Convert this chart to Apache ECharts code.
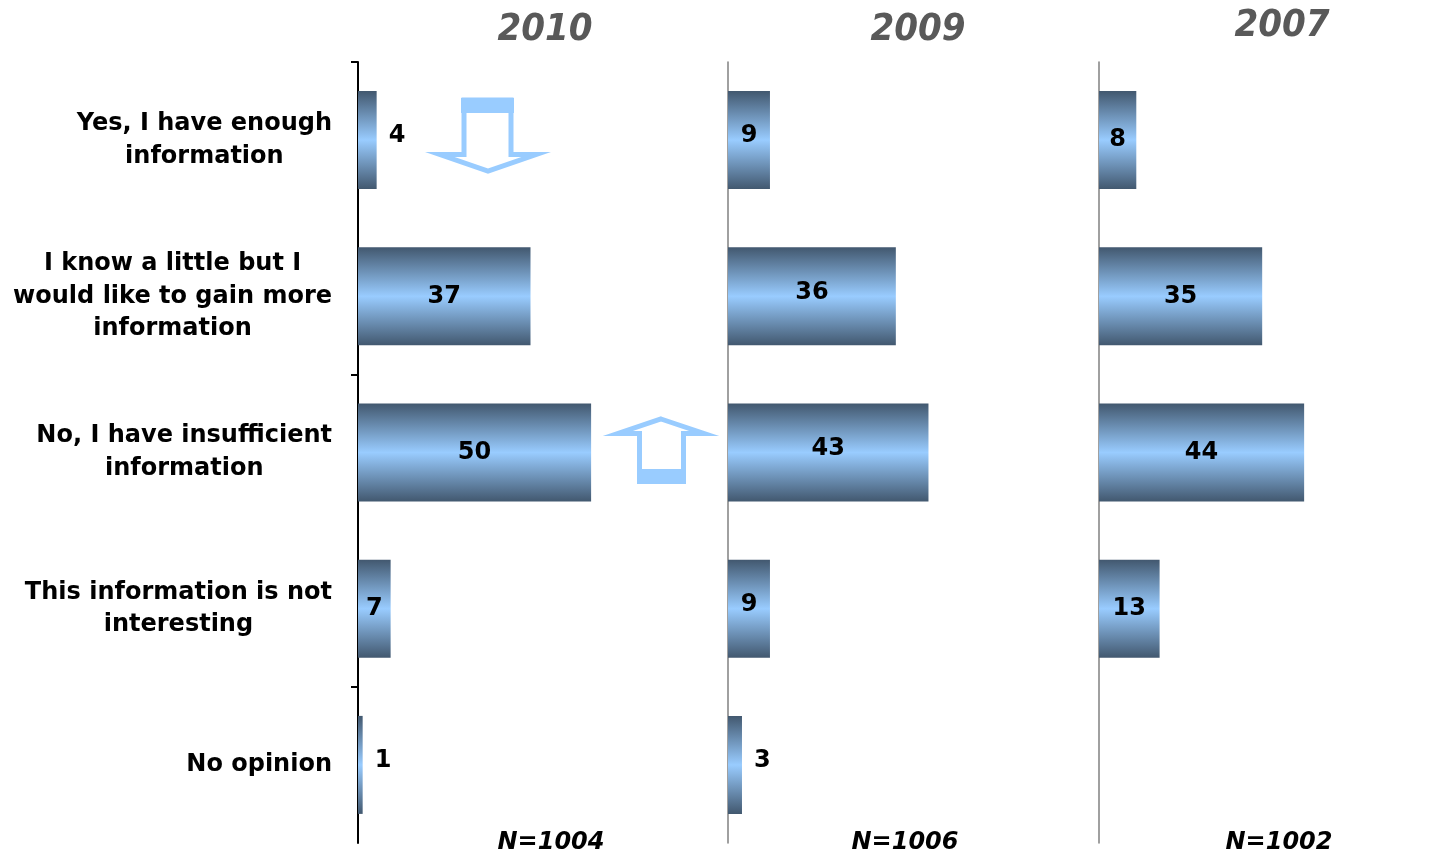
<!DOCTYPE html>
<html>
<head>
<meta charset="utf-8">
<script src="https://cdn.jsdelivr.net/npm/echarts@6/dist/echarts.min.js"></script>
<style>html,body{margin:0;padding:0;background:#fff;}#c{width:1451px;height:853px;}</style>
</head>
<body>
<div id="c"></div>
<script>
const categories = ['Yes, I have enough\ninformation', 'I know a little but I\nwould like to gain more\ninformation', 'No, I have insufficient\ninformation', 'This information is not\ninteresting', 'No opinion'];
const years = ['2010', '2009', '2007'];
const sampleSizes = ['N=1004', 'N=1006', 'N=1002'];
const values2010 = [4, 37, 50, 7, 1];
const values2009 = [9, 36, 43, 9, 3];
const values2007 = [8, 35, 44, 13, null];
const tickPositions = [0, 2, 4];

const panelValues = [values2010, values2009, values2007];
const gridLefts = [358, 728, 1099];
const gridWidth = 345;
const xMax = 74;
const FONT = '"DejaVu Sans", Verdana, sans-serif';

const barColor = {
  type: 'linear', x: 0, y: 0, x2: 0, y2: 1,
  colorStops: [
    { offset: 0, color: '#42586f' },
    { offset: 0.5, color: '#99ccff' },
    { offset: 1, color: '#42586f' }
  ]
};

const grids = gridLefts.map(l => ({ left: l, width: gridWidth, top: 62, bottom: 10 }));
const xAxes = gridLefts.map((l, i) => ({ gridIndex: i, type: 'value', min: 0, max: xMax, show: false }));
const yAxes = gridLefts.map((l, i) => ({
  gridIndex: i, type: 'category', inverse: true, data: categories,
  axisLine: { show: true, lineStyle: { color: i === 0 ? '#000' : '#808080', width: i === 0 ? 2 : 1.5 } },
  axisTick: { show: false },
  axisLabel: {
    show: i === 0, margin: 26, align: 'right',
    formatter: v => v.split('\n').map(s => '{c|' + s + '}').join('\n'),
    rich: { c: { align: 'center', fontFamily: FONT, fontWeight: 'bold', fontSize: 24, lineHeight: 32.5, color: '#000' } }
  },
  splitLine: { show: false }
}));
// tick-only axis for the first panel (ticks every second category boundary)
yAxes.push({
  gridIndex: 0, type: 'value', inverse: true, min: 0, max: categories.length, position: 'left',
  axisLine: { show: false },
  axisTick: { show: true, customValues: tickPositions, length: 7, lineStyle: { color: '#000', width: 2 } },
  axisLabel: { show: false },
  splitLine: { show: false }
});

const series = panelValues.map((vals, i) => ({
  type: 'bar', xAxisIndex: i, yAxisIndex: i, barWidth: 98,
  itemStyle: { color: barColor },
  data: vals.map(v => {
    if (v == null) return null;
    const inside = v >= 7;
    return {
      value: v,
      label: {
        show: true,
        position: inside ? 'inside' : 'right',
        distance: 12,
        offset: [0, (i === 1 || !inside) ? -4 : 0],
        fontFamily: FONT, fontWeight: 'bold', fontSize: 24, color: '#000'
      }
    };
  })
}));

const titleCenters = [540, 913, 1277];
const titleTops = [6, 6, 2];
const nCenters = [546, 900, 1274];
const titles = years.map((y, i) => ({
  text: y, left: titleCenters[i], top: titleTops[i], textAlign: 'center',
  textStyle: { fontFamily: '"DejaVu Sans Condensed", "DejaVu Sans", sans-serif', fontWeight: 'bold', fontStyle: 'italic', fontSize: 38, color: '#595959' }
})).concat(sampleSizes.map((n, i) => ({
  text: n, left: nCenters[i], top: 826, textAlign: 'center',
  textStyle: { fontFamily: FONT, fontWeight: 'bold', fontStyle: 'italic', fontSize: 24, color: '#000' }
})));

const arrowStyle = { fill: '#fff', stroke: '#99ccff', lineWidth: 5, lineJoin: 'miter' };
const graphic = [
  { type: 'polygon', shape: { points: [[464,100],[511,100],[511,154.5],[536,154.5],[488,171],[440,154.5],[464,154.5]] }, style: arrowStyle, z: 10 },
  { type: 'rect', shape: { x: 461, y: 98, width: 53, height: 15 }, style: { fill: '#99ccff' }, z: 11 },
  { type: 'polygon', shape: { points: [[661,419],[704,433.5],[683.5,433.5],[683.5,481.5],[639.5,481.5],[639.5,433.5],[618,433.5]] }, style: arrowStyle, z: 10 },
  { type: 'rect', shape: { x: 637, y: 469, width: 49, height: 15 }, style: { fill: '#99ccff' }, z: 11 }
];

const chart = echarts.init(document.getElementById('c'));
chart.setOption({
  animation: false,
  backgroundColor: '#fff',
  title: titles,
  grid: grids,
  xAxis: xAxes,
  yAxis: yAxes,
  series: series,
  graphic: graphic
});
</script>
</body>
</html>
